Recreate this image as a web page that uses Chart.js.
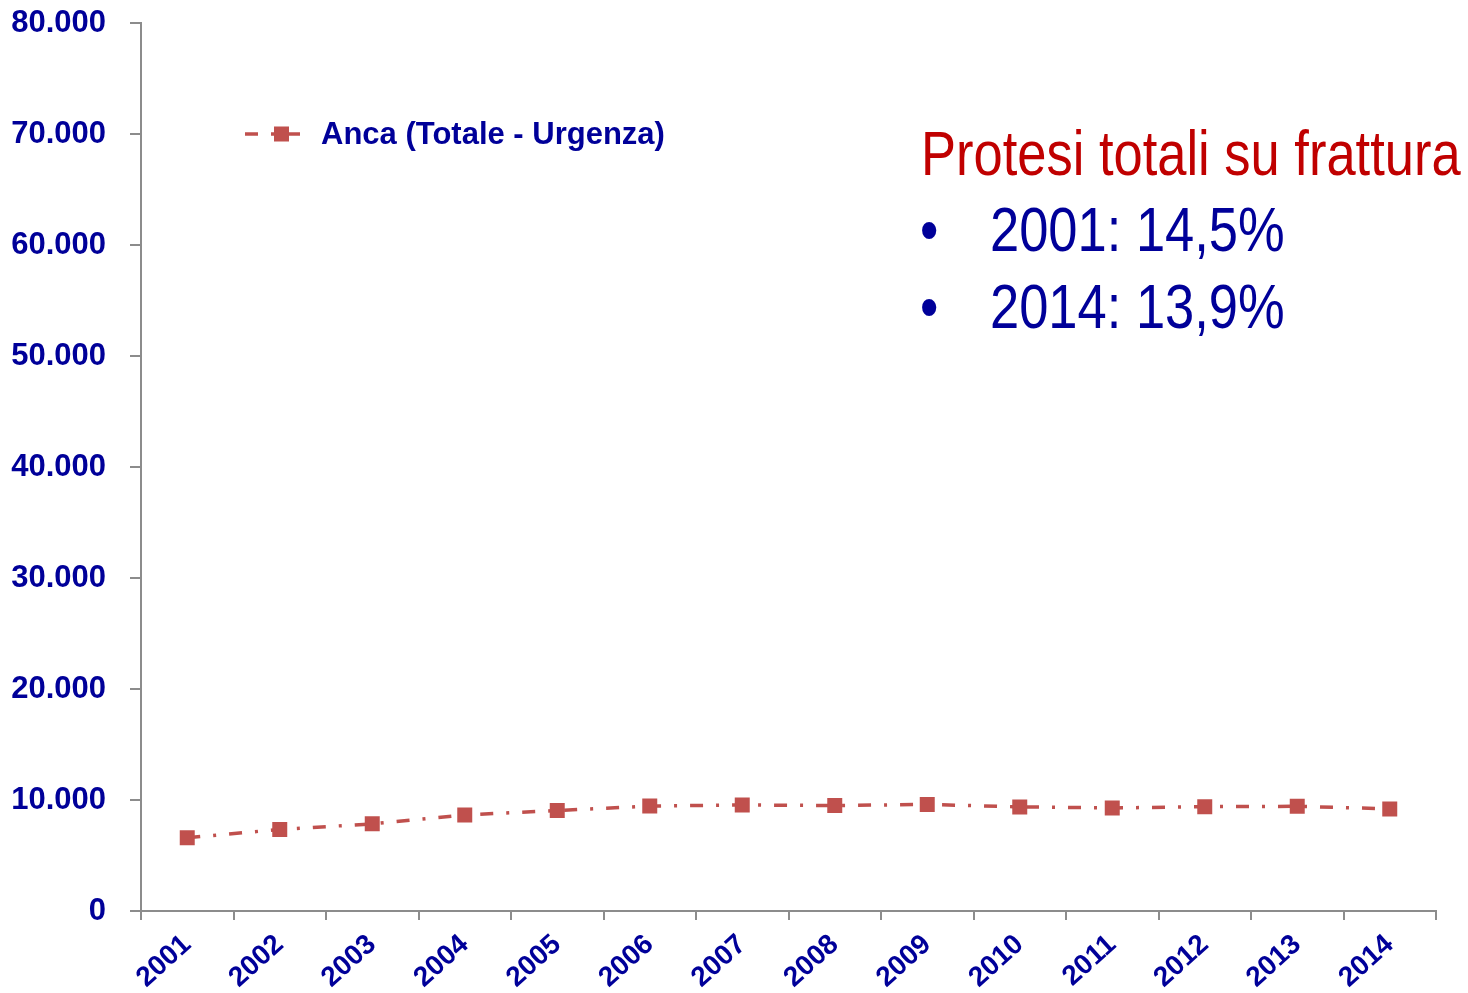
<!DOCTYPE html>
<html>
<head>
<meta charset="utf-8">
<script src="https://cdn.jsdelivr.net/npm/chart.js@4/dist/chart.umd.min.js"></script>
<style>
  html, body { margin: 0; padding: 0; background: #fff; }
  #wrap { position: relative; width: 1468px; height: 993px; }
  canvas { display: block; }
  .note {
    position: absolute;
    font-family: 'Liberation Sans', Arial, sans-serif;
    font-size: 63px;
    line-height: 63px;
    white-space: nowrap;
    transform: scaleX(0.833);
    transform-origin: 0 0;
  }
  .red { color: #C00000; }
  .blue { color: #000099; }
</style>
</head>
<body>
<div id="wrap">
  <canvas id="chart" width="1468" height="993"></canvas>
  <div class="note red" style="left:921px; top:122px;">Protesi totali su frattura</div>
  <div class="note blue" style="left:920px; top:198px;">•</div>
  <div class="note blue" style="left:990px; top:198px;">2001: 14,5%</div>
  <div class="note blue" style="left:920px; top:275px;">•</div>
  <div class="note blue" style="left:990px; top:275px;">2014: 13,9%</div>
</div>
<script>
// data
const years = ['2001', '2002', '2003', '2004', '2005', '2006', '2007',
               '2008', '2009', '2010', '2011', '2012', '2013', '2014'];
const ancaUrgenza = [6600, 7350, 7850, 8650, 9050, 9450, 9550,
                     9500, 9600, 9380, 9280, 9400, 9430, 9200];
const yTicks = [0, 10000, 20000, 30000, 40000, 50000, 60000, 70000, 80000];
const seriesLabel = 'Anca (Totale - Urgenza)';

const BLUE = '#000099';
const LINE = '#C0504D';
const AXIS = '#8c8c8c';
const FONT = "'Liberation Sans', Arial, sans-serif";
const DASH = [13, 13, 3, 13];

function itNumber(v) {
    return String(v).replace(/\B(?=(\d{3})+(?!\d))/g, '.');
}

// legend drawn inside the plot, line + square like the original
const insideLegend = {
    id: 'insideLegend',
    afterDraw(chart) {
        const ctx = chart.ctx;
        const area = chart.chartArea;
        const x0 = area.left + 104;
        const y0 = area.top + 111;
        ctx.save();
        ctx.strokeStyle = LINE;
        ctx.lineWidth = 3.5;
        ctx.setLineDash(DASH);
        ctx.beginPath();
        ctx.moveTo(x0, y0);
        ctx.lineTo(x0 + 58, y0);
        ctx.stroke();
        ctx.setLineDash([]);
        ctx.fillStyle = LINE;
        ctx.fillRect(x0 + 29, y0 - 7.5, 15, 15);
        ctx.fillStyle = BLUE;
        ctx.font = 'bold 31px ' + FONT;
        ctx.textBaseline = 'middle';
        ctx.fillText(seriesLabel, x0 + 76, y0 + 1);
        ctx.restore();
    }
};

const ctx = document.getElementById('chart').getContext('2d');
new Chart(ctx, {
    type: 'line',
    data: {
        labels: years,
        datasets: [{
            label: seriesLabel,
            data: ancaUrgenza,
            borderColor: LINE,
            backgroundColor: LINE,
            borderWidth: 3.5,
            borderDash: DASH,
            pointStyle: 'rect',
            pointRadius: 10.6,
            pointBackgroundColor: LINE,
            pointBorderColor: LINE,
            pointBorderWidth: 0,
            tension: 0,
            fill: false
        }]
    },
    options: {
        responsive: false,
        animation: false,
        events: [],
        layout: { padding: { top: 23, right: 32, left: 0, bottom: 0 } },
        plugins: {
            legend: { display: false },
            tooltip: { enabled: false }
        },
        scales: {
            x: {
                offset: true,
                grid: {
                    offset: true,
                    drawOnChartArea: false,
                    drawTicks: true,
                    tickLength: 9,
                    color: AXIS,
                    lineWidth: 2
                },
                border: { color: AXIS, width: 2 },
                ticks: {
                    color: BLUE,
                    font: { family: FONT, size: 28, weight: 'bold' },
                    minRotation: 42,
                    maxRotation: 42,
                    padding: 8,
                    autoSkip: false
                },
                afterFit(scale) {
                    scale.height = 82;
                    scale.paddingLeft = 0;
                    scale.paddingRight = 0;
                }
            },
            y: {
                min: 0,
                max: 80000,
                afterBuildTicks(scale) {
                    scale.ticks = yTicks.map(v => ({ value: v }));
                },
                grid: {
                    drawOnChartArea: false,
                    drawTicks: true,
                    tickLength: 11,
                    color: AXIS,
                    lineWidth: 2
                },
                border: { color: AXIS, width: 2 },
                ticks: {
                    color: BLUE,
                    font: { family: FONT, size: 31, weight: 'bold' },
                    padding: 24,
                    callback: v => itNumber(v)
                },
                afterFit(scale) {
                    scale.width = 141;
                    scale.paddingTop = 0;
                    scale.paddingBottom = 0;
                }
            }
        }
    },
    plugins: [insideLegend]
});
</script>
</body>
</html>
